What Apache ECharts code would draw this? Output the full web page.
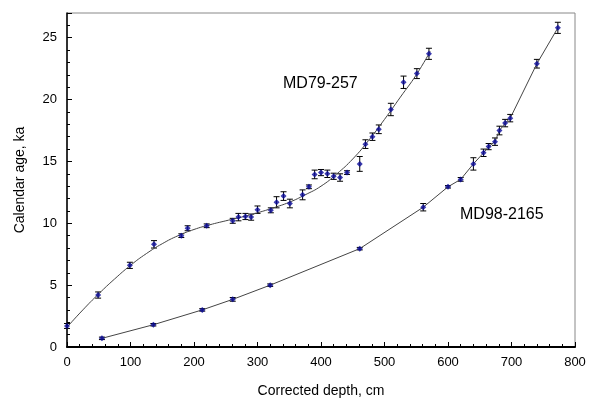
<!DOCTYPE html>
<html lang="en">
<head>
    <meta charset="utf-8">
    <title>age model</title>
    <script src="https://cdn.jsdelivr.net/npm/echarts@6/dist/echarts.min.js"></script>
</head>
<body style="margin:0">
    <div id="main" style="width: 591px;height:404px;"></div>
    <script>
    // MD79-257 dated levels: depth (cm), age (ka), half error bar (ka)
    var md79Depth = [0, 49, 99, 137, 180, 190, 220, 261, 270, 281, 290, 300, 321, 330, 341, 351, 371, 381, 390, 400, 410, 420, 430, 441, 461, 470, 481, 491, 510, 530, 551, 570];
    var md79Age   = [1.7, 4.2, 6.6, 8.3, 9.0, 9.6, 9.8, 10.2, 10.5, 10.55, 10.5, 11.1, 11.05, 11.7, 12.2, 11.6, 12.3, 12.95, 13.95, 14.1, 14.0, 13.8, 13.7, 14.1, 14.8, 16.4, 17.0, 17.6, 19.2, 21.4, 22.1, 23.7];
    var md79Err   = [0.2, 0.25, 0.25, 0.3, 0.15, 0.2, 0.15, 0.2, 0.3, 0.25, 0.25, 0.3, 0.2, 0.45, 0.35, 0.35, 0.4, 0.15, 0.35, 0.25, 0.3, 0.25, 0.3, 0.15, 0.6, 0.35, 0.3, 0.35, 0.5, 0.5, 0.4, 0.45];
    // smooth age-depth curve for MD79-257
    var md79CurveDepth = [0, 25, 50, 75, 100, 125, 150, 175, 200, 225, 250, 275, 300, 325, 350, 375, 400, 425, 450, 475, 500, 525, 550, 572];
    var md79CurveAge   = [1.6, 3.0, 4.3, 5.5, 6.6, 7.55, 8.35, 9.0, 9.5, 9.88, 10.2, 10.5, 10.85, 11.25, 11.7, 12.3, 13.0, 14.0, 15.2, 16.7, 18.4, 20.2, 22.0, 23.9];
    // MD98-2165
    var md98Depth = [55, 136, 213, 261, 320, 461, 561, 600, 620, 640, 656, 664, 674, 681, 690, 698, 740, 773];
    var md98Age   = [0.7, 1.8, 3.0, 3.85, 5.0, 7.95, 11.3, 12.95, 13.55, 14.8, 15.7, 16.2, 16.6, 17.5, 18.1, 18.5, 22.9, 25.8];
    var md98Err   = [0.1, 0.1, 0.1, 0.15, 0.1, 0.1, 0.3, 0.1, 0.15, 0.5, 0.3, 0.25, 0.3, 0.35, 0.3, 0.3, 0.35, 0.45];

    function pts(xs, ys) { return xs.map(function (x, i) { return [x, ys[i]]; }); }
    function bars(xs, ys, es) { return xs.map(function (x, i) { return [x, ys[i], es[i]]; }); }

    function renderErr(params, api) {
        var x = api.value(0), y = api.value(1), e = api.value(2);
        var lo = api.coord([x, y - e]);
        var hi = api.coord([x, y + e]);
        var st = { stroke: '#000', lineWidth: 1 };
        return {
            type: 'group',
            children: [
                { type: 'line', shape: { x1: lo[0], y1: lo[1], x2: hi[0], y2: hi[1] }, style: st },
                { type: 'line', shape: { x1: lo[0] - 3, y1: lo[1], x2: lo[0] + 3, y2: lo[1] }, style: st },
                { type: 'line', shape: { x1: hi[0] - 3, y1: hi[1], x2: hi[0] + 3, y2: hi[1] }, style: st }
            ]
        };
    }

    var font = 'Liberation Sans, Arial, sans-serif';
    var myChart = echarts.init(document.getElementById('main'));
    var option = {
        animation: false,
        grid: {
            left: 67, right: 16, top: 13, bottom: 57,
            show: true, borderColor: '#888', borderWidth: 1
        },
        xAxis: {
            type: 'value', min: 0, max: 800, interval: 100,
            name: 'Corrected depth, cm', nameLocation: 'middle', nameGap: 37,
            nameTextStyle: { fontSize: 14, color: '#000', fontFamily: font },
            axisLine: { lineStyle: { color: '#000', width: 2 } },
            axisTick: { inside: true, length: 5, lineStyle: { color: '#000' } },
            minorTick: { show: true, splitNumber: 5, length: 3, lineStyle: { color: '#000' } },
            axisLabel: { fontSize: 13, color: '#000', fontFamily: font, margin: 9 },
            splitLine: { show: false }
        },
        yAxis: {
            type: 'value', min: 0, max: 27, interval: 5,
            name: 'Calendar age, ka', nameLocation: 'middle', nameGap: 40,
            nameTextStyle: { fontSize: 14, color: '#000', fontFamily: font },
            axisLine: { lineStyle: { color: '#000', width: 1.5 } },
            axisTick: { inside: true, length: 5, lineStyle: { color: '#000' } },
            minorTick: { show: true, splitNumber: 5, length: 3, lineStyle: { color: '#000' } },
            axisLabel: { fontSize: 13, color: '#000', fontFamily: font, showMaxLabel: false, margin: 10 },
            splitLine: { show: false }
        },
        graphic: [
            { type: 'text', left: 283, top: 76, style: { text: 'MD79-257', fill: '#000', font: '16px ' + font } },
            { type: 'text', left: 460, top: 207, style: { text: 'MD98-2165', fill: '#000', font: '16px ' + font } }
        ],
        series: [
            {
                type: 'line', data: pts(md79CurveDepth, md79CurveAge), smooth: true,
                symbol: 'none', lineStyle: { color: '#444', width: 1 }
            },
            {
                type: 'line', data: pts(md98Depth, md98Age),
                symbol: 'none', lineStyle: { color: '#444', width: 1 }
            },
            { type: 'custom', data: bars(md79Depth, md79Age, md79Err), renderItem: renderErr, z: 3 },
            { type: 'custom', data: bars(md98Depth, md98Age, md98Err), renderItem: renderErr, z: 3 },
            {
                type: 'scatter', data: pts(md79Depth, md79Age), symbol: 'diamond', symbolSize: 6,
                itemStyle: { color: '#0a0a9a' }, z: 4
            },
            {
                type: 'scatter', data: pts(md98Depth, md98Age), symbol: 'diamond', symbolSize: 6,
                itemStyle: { color: '#0a0a9a' }, z: 4
            }
        ]
    };
    myChart.setOption(option);
    </script>
</body>
</html>
